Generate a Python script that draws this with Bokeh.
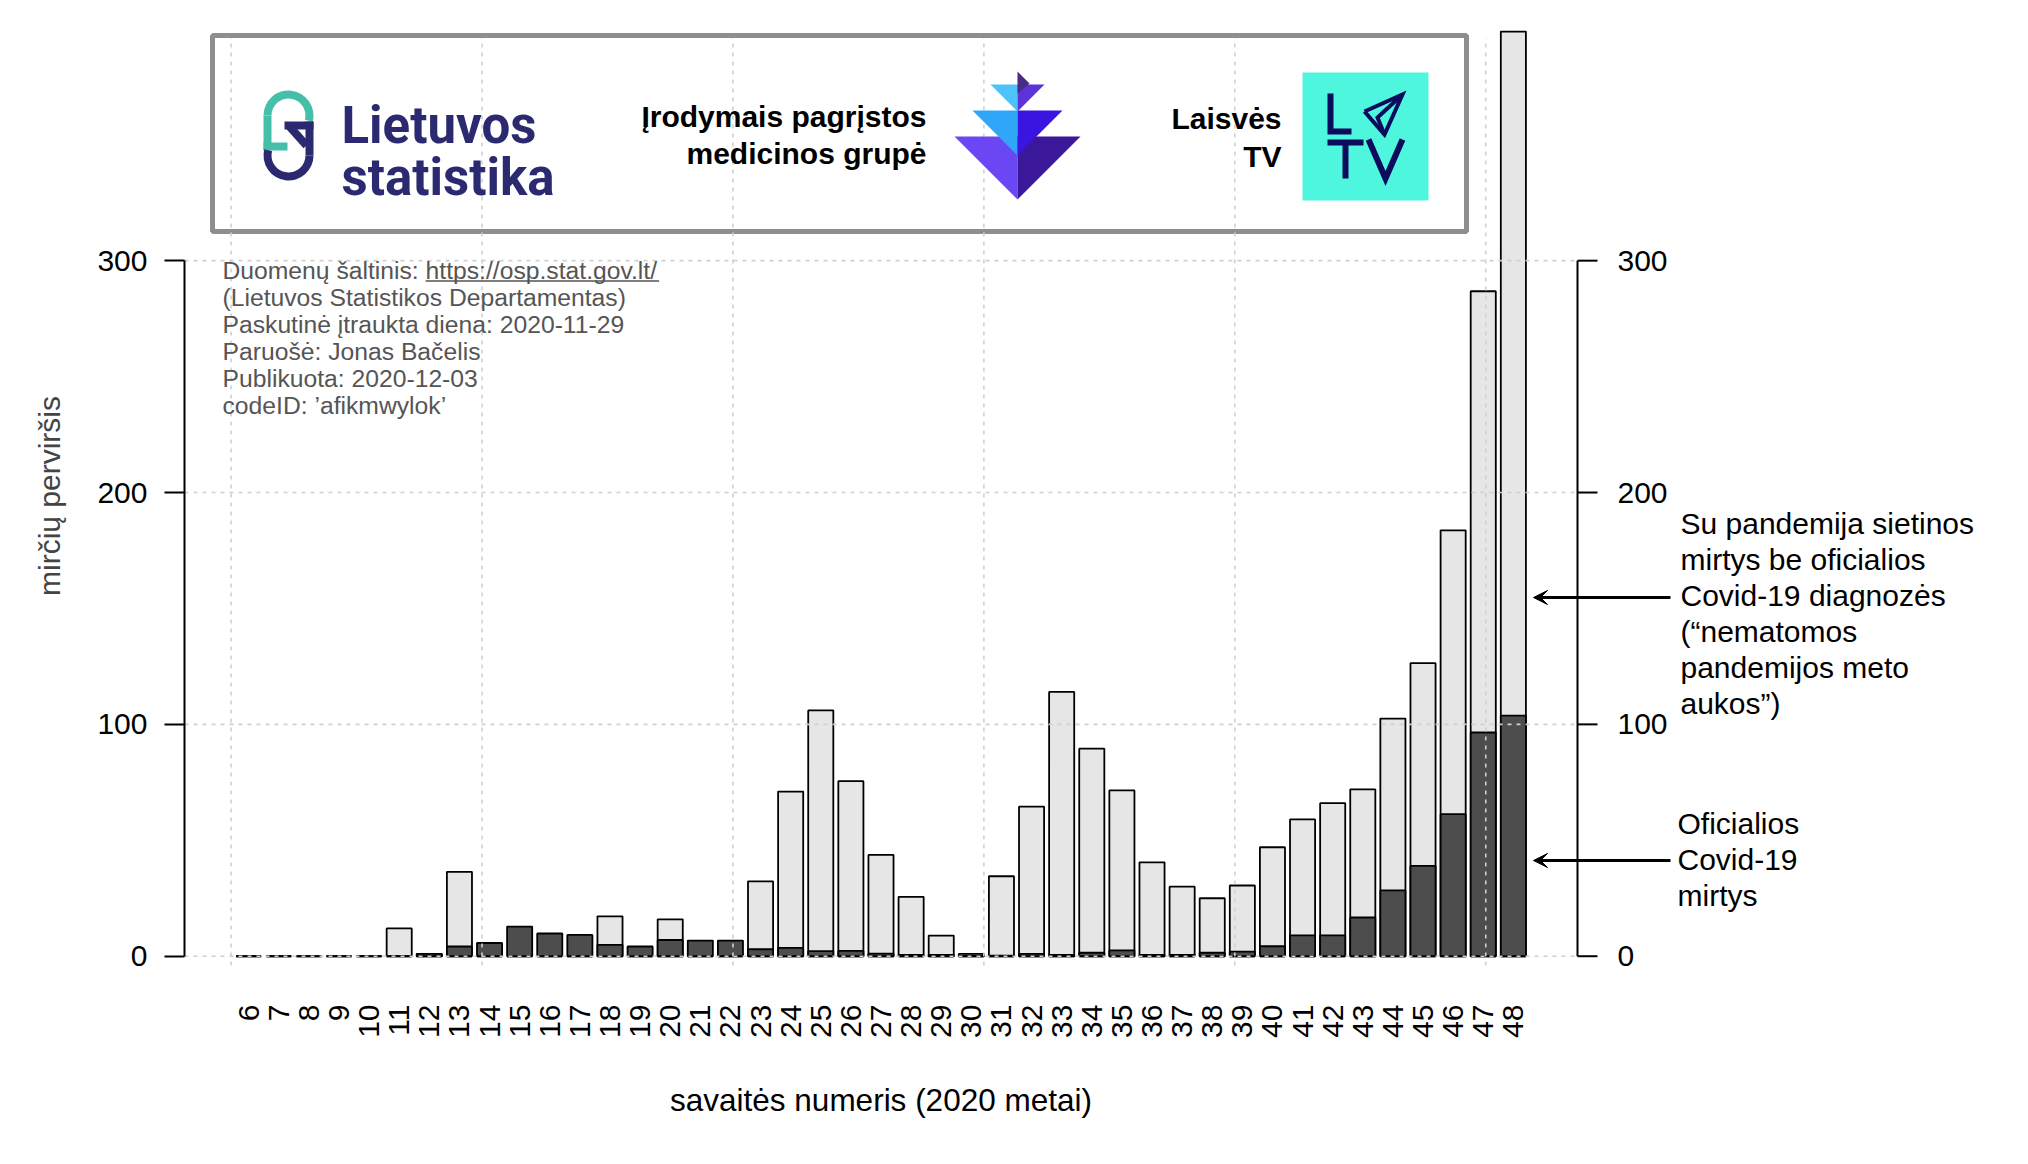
import numpy as np
from bokeh.plotting import figure
from bokeh.models import (Range1d, FixedTicker, Label, Arrow, VeeHead, LinearAxis,
                          ColumnDataSource)
from bokeh.core.properties import value
from bokeh.embed import file_html
from bokeh.resources import INLINE

# ---------------- data ----------------
weeks = list(range(6, 49))
excess = [0, 0, 0, 0, 0, 12, 1, 36.4, 0, 0, 0, 0, 17.2, 0, 15.9, 0, 0, 32.3,
          71, 106, 75.5, 43.7, 25.6, 8.9, 1, 34.5, 64.5, 114, 89.5, 71.5, 40.5,
          30, 25, 30.5, 47, 59, 66, 72, 102.5, 126.4, 183.7, 286.8, 398.8]
covid = [0, 0, 0, 0, 0, 0, 1, 4.2, 5.7, 12.8, 9.8, 9.2, 4.9, 4.2, 7.0, 6.75,
         6.75, 3.0, 3.6, 2.2, 2.3, 1.1, 0.6, 0.6, 0.3, 0.3, 1, 0.6, 1.5, 2.5,
         0.6, 0.6, 1.5, 2, 4.3, 9, 9, 16.7, 28.4, 39, 61.3, 96.5, 103.8]
y_ticks = [0, 100, 200, 300]
y_tick_labels = [str(t) for t in y_ticks]

info_lines = [
    "Duomenų šaltinis: https://osp.stat.gov.lt/",
    "(Lietuvos Statistikos Departamentas)",
    "Paskutinė įtraukta diena: 2020-11-29",
    "Paruošė: Jonas Bačelis",
    "Publikuota: 2020-12-03",
    "codeID: ’afikmwylok’",
]
unexplained_lines = [
    "Su pandemija sietinos",
    "mirtys be oficialios",
    "Covid-19 diagnozės",
    "(“nematomos",
    "pandemijos meto",
    "aukos”)",
]
official_lines = ["Oficialios", "Covid-19", "mirtys"]
x_title = "savaitės numeris (2020 metai)"
y_title = "mirčių perviršis"

# ---------------- layout ----------------
FONT = "Liberation Sans"
W, H = 2012, 1148
FL, FT, FB = 184, 26, 965          # frame edges in canvas pixels
AXR = 1577                          # position of the right-hand value axis (pixels)

n = len(weeks)
wl, wr = 0.2, 1.2 * n               # R barplot extents
ext = 0.04 * (wr - wl)
to_week = lambda u: weeks[0] + (u - 0.7) / 1.2
x_lo, x_axr = to_week(wl - ext), to_week(wr + ext)
px_per_week = (AXR - FL) / (x_axr - x_lo)
x_hi = x_lo + (W - FL) / px_per_week
bar_w = 1 / 1.2

p = figure(width=W, height=H, x_range=Range1d(x_lo, x_hi), y_range=Range1d(-4, 401),
           output_backend="svg", toolbar_location=None, title=None,
           min_border_left=FL, min_border_right=0,
           min_border_top=FT, min_border_bottom=H - FB)
p.outline_line_color = None
p.background_fill_color = "white"
p.border_fill_color = "white"

# pixel-coordinate ranges for decorations
p.extra_x_ranges = {"px": Range1d(FL, W)}
p.extra_y_ranges = {"py": Range1d(FB, FT)}
PXK = dict(x_range_name="px", y_range_name="py")

# ---------------- bars ----------------
src = ColumnDataSource(dict(week=weeks, excess=excess, covid=covid))
p.vbar(x="week", top="excess", bottom=0, width=bar_w, source=src,
       fill_color="#e6e6e6", line_color="black", line_width=1.8)
p.vbar(x="week", top="covid", bottom=0, width=bar_w, source=src,
       fill_color="#4d4d4d", line_color="black", line_width=1.8)

# ---------------- grid (drawn over bars) ----------------
GRID = dict(line_color="#d0d0d0", line_dash="4 5", line_width=1.6)
p.xgrid.visible = False
p.ygrid.visible = False
gx = [to_week(u) for u in range(0, 51, 10)]
p.segment(x0=gx, y0=[-4] * len(gx), x1=gx, y1=[396] * len(gx), level="guide", **GRID)
p.segment(x0=[FL] * len(y_ticks), y0=y_ticks, x1=[AXR] * len(y_ticks), y1=y_ticks,
          x_range_name="px", level="guide", **GRID)

# ---------------- axes ----------------
yl = p.yaxis[0]
yl.ticker = FixedTicker(ticks=y_ticks)
yl.bounds = (0, 300)
yl.axis_line_width = 2
yl.axis_line_color = "black"
yl.major_tick_line_width = 2
yl.major_tick_line_color = "black"
yl.major_tick_out = 20
yl.major_tick_in = 0
yl.minor_tick_line_color = None
yl.major_label_text_font = FONT
yl.major_label_text_font_size = "30px"
yl.major_label_text_color = "black"
yl.major_label_standoff = 17
yl.axis_label = y_title
yl.axis_label_text_font = FONT
yl.axis_label_text_font_size = "30px"
yl.axis_label_text_font_style = "normal"
yl.axis_label_standoff = 28

# right-hand value axis (duplicate of the left one, placed at the plot edge)
p.segment(x0=[AXR], y0=[y_ticks[0]], x1=[AXR], y1=[y_ticks[-1]], x_range_name="px",
          line_color="black", line_width=2, level="guide")
p.segment(x0=[AXR] * len(y_ticks), y0=y_ticks, x1=[AXR + 20] * len(y_ticks), y1=y_ticks,
          x_range_name="px", line_color="black", line_width=2, level="guide")
p.text(x=[AXR + 40] * len(y_ticks), y=y_ticks, text=y_tick_labels, x_range_name="px",
       text_font=value(FONT), text_font_size="30px", text_color="black",
       text_align="left", text_baseline="middle", level="guide")

xa = p.xaxis[0]
xa.ticker = FixedTicker(ticks=weeks)
xa.major_label_orientation = np.pi / 2
xa.axis_line_color = None
xa.major_tick_line_color = None
xa.minor_tick_line_color = None
xa.major_label_standoff = 33
xa.major_label_text_font = FONT
xa.major_label_text_font_size = "30px"
xa.major_label_text_color = "black"

# x-axis title, centred under the bar area (not under the whole frame)
x_mid = (x_lo + x_axr) / 2
xt = LinearAxis(ticker=FixedTicker(ticks=[x_mid]),
                major_label_overrides={x_mid: x_title})
xt.axis_line_color = None
xt.major_tick_line_color = None
xt.minor_tick_line_color = None
xt.major_label_standoff = 35
xt.major_label_text_font = FONT
xt.major_label_text_font_size = "31.5px"
xt.major_label_text_color = "black"
p.add_layout(xt, "below")

# ---------------- info text ----------------
INFO_FS = 24.7
for i, t in enumerate(info_lines):
    p.add_layout(Label(x=222, y=270 + 27 * i, text=t, text_font=FONT,
                       text_font_size=f"{INFO_FS}px", text_color="#555555",
                       text_baseline="middle", text_align="left", **PXK))
# underline of the link (Arial metrics: prefix 8.225 em, whole line 17.675 em)
p.segment(x0=[222 + 8.225 * INFO_FS], y0=[280.5], x1=[222 + 17.675 * INFO_FS],
          y1=[280.5], line_color="#555555", line_width=1.5, level="annotation", **PXK)

# ---------------- right-side annotations ----------------
for i, t in enumerate(unexplained_lines):
    p.add_layout(Label(x=1680, y=523 + 35.9 * i, text=t, text_font=FONT,
                       text_font_size="30px", text_color="black",
                       text_baseline="middle", **PXK))
for i, t in enumerate(official_lines):
    p.add_layout(Label(x=1677, y=823 + 36 * i, text=t, text_font=FONT,
                       text_font_size="30px", text_color="black",
                       text_baseline="middle", **PXK))
for yy in (597, 860):
    p.add_layout(Arrow(end=VeeHead(size=14, fill_color="black", line_color="black"),
                       x_start=1670, y_start=yy, x_end=1533, y_end=yy,
                       line_width=3, line_color="black", **PXK))

# ---------------- logo box ----------------
p.quad(left=[212], right=[1466], top=[35], bottom=[231], fill_color="white",
       line_color="#8e8e8e", line_width=5, **PXK)
LV = dict(level="annotation", **PXK)

# Lietuvos statistika mark
NAVY = "#2b2a70"
TEAL = "#45bfa9"
p.annular_wedge(x=[288], y=[115], inner_radius=17, outer_radius=25,
                start_angle=[-0.25], end_angle=[np.pi], fill_color=TEAL,
                line_color=None, **LV)
p.quad(left=[263], right=[271], top=[115], bottom=[150], fill_color=TEAL, line_color=None, **LV)
p.quad(left=[263], right=[287], top=[142], bottom=[150], fill_color=TEAL, line_color=None, **LV)
p.annular_wedge(x=[288], y=[155], inner_radius=17, outer_radius=25,
                start_angle=[np.pi - 0.25], end_angle=[2 * np.pi], fill_color=NAVY,
                line_color=None, **LV)
p.quad(left=[305], right=[313], top=[121], bottom=[155], fill_color=NAVY, line_color=None, **LV)
p.quad(left=[284], right=[313], top=[121], bottom=[129], fill_color=NAVY, line_color=None, **LV)
p.segment(x0=[289], y0=[126], x1=[306], y1=[145], line_color=NAVY, line_width=8, **LV)
for t, yb in (("Lietuvos", 125), ("statistika", 177)):
    p.add_layout(Label(x=341, y=yb, text=t, text_font="Roboto", text_font_style="bold",
                       text_font_size="51px", text_color=NAVY,
                       text_baseline="alphabetic", level="annotation", **PXK))

# group name
for t, yy in (("Įrodymais pagrįstos", 116), ("medicinos grupė", 153)):
    p.add_layout(Label(x=926, y=yy, text=t, text_font=FONT, text_font_style="bold",
                       text_font_size="30px", text_color="black", text_align="right",
                       text_baseline="middle", level="annotation", **PXK))
# diamond mark
cx = 1017
tiers = [(136, 63, "#6a47f3", "#3b1899"),
         (110, 45, "#2fa6f7", "#3a14e0"),
         (84, 27, "#4cc3fb", "#5b33d6")]
xs, ys, cols = [], [], []
for top, h, cl, cr in tiers:
    xs += [[cx - h, cx, cx], [cx, cx + h, cx]]
    ys += [[top, top, top + h], [top, top, top + h]]
    cols += [cl, cr]
xs.append([cx, cx + 12, cx]); ys.append([71, 83, 93]); cols.append("#4a2b85")
p.patches(xs=xs, ys=ys, fill_color=cols, line_color=None, **LV)

# Laisvės TV
for t, yy in (("Laisvės", 118), ("TV", 156)):
    p.add_layout(Label(x=1281, y=yy, text=t, text_font=FONT, text_font_style="bold",
                       text_font_size="30px", text_color="black", text_align="right",
                       text_baseline="middle", level="annotation", **PXK))
p.quad(left=[1302], right=[1428], top=[72], bottom=[200], fill_color="#4ef6dd",
       line_color=None, **LV)
LTV = "#0c0b5e"
p.multi_line(xs=[[1330, 1330, 1351], [1327, 1363], [1345, 1345], [1368, 1385, 1402]],
             ys=[[93, 131, 131], [142, 142], [142, 178], [139, 178, 139]],
             line_color=LTV, line_width=6, line_join="miter", **LV)
p.multi_line(xs=[[1364, 1402, 1384, 1364], [1402, 1377, 1384]],
             ys=[[111, 94, 134, 111], [94, 117, 134]],
             line_color=LTV, line_width=4, line_join="miter", **LV)

open("out.html", "w").write(file_html(p, INLINE))
